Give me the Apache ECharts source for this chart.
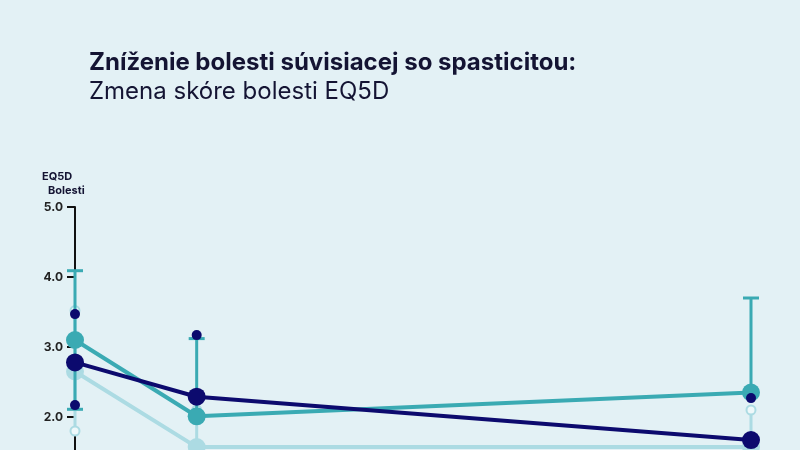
<!DOCTYPE html>
<html><head><meta charset="utf-8">
<script src="https://cdn.jsdelivr.net/npm/echarts@6/dist/echarts.min.js"></script>
<style>html,body{margin:0;padding:0;overflow:hidden;background:#e3f1f5}#c{width:800px;height:600px}</style>
</head><body><div id="c"></div>
<script>
const timepoints = [0, 18, 100];
const yTicks = [2, 3, 4, 5];
const navyMean = [2.78, 2.29, 1.67];
const navyHi = [3.47, 3.17, 2.27];
const navyLo = [2.17, null, null];
const tealMean = [3.10, 2.01, 2.35];
const tealHi = [4.09, 3.12, 3.70];
const tealLo = [2.11, null, null];
const lightMean = [2.65, 1.57, 1.57];
const lightHi = [3.52, 2.10, 2.10];
const lightLo = [1.80, null, null];

const colors = {navy:'#0c0a6e', teal:'#3aaab3', light:'#acdbe3'};
const series = [];
function group(mean, hi, lo, color, endSize, endBorder, cap, wWidth, z){
  timepoints.forEach((t,i)=>{
    const lowV = lo[i] !== null ? lo[i] : mean[i];
    series.push({type:'line', data:[[t,lowV],[t,hi[i]]], symbol:'none', lineStyle:{color, width:wWidth}, z, silent:true});
    const ends = [[t,hi[i]]]; if (lo[i]!==null) ends.push([t,lo[i]]);
    series.push({type:'scatter', data:ends, symbol:cap?'rect':'circle', symbolSize:cap?[16,3]:endSize,
      itemStyle:{color: endBorder ? '#eef8fa' : color, borderColor:color, borderWidth:endBorder?2:0, opacity:1}, z:z+1, silent:true});
  });
  series.push({type:'line', data:timepoints.map((t,i)=>[t,mean[i]]), symbol:'circle', symbolSize:18,
    lineStyle:{color, width:4}, itemStyle:{color, opacity:1}, z:z+2, silent:true});
}
group(lightMean, lightHi, lightLo, colors.light, 9, true, false, 3, 2);
group(tealMean, tealHi, tealLo, colors.teal, 0, false, true, 3, 5);
group(navyMean, navyHi, navyLo, colors.navy, 10, false, false, 0, 8);

const chart = echarts.init(document.getElementById('c'));
chart.setOption({
  backgroundColor:'#e3f1f5',
  animation:false,
  title:[{text:'Zníženie bolesti súvisiacej so spasticitou:', left:84, top:46,
    textStyle:{fontFamily:'Inter', fontWeight:'bold', fontSize:24, color:'#141433'}},
    {text:'Zmena skóre bolesti EQ5D', left:84, top:75,
    textStyle:{fontFamily:'Inter', fontWeight:'normal', fontSize:24, color:'#141433'}},
    {text:'EQ5D', left:37, top:166, textStyle:{fontFamily:'Inter', fontWeight:'bold', fontSize:11, color:'#141433'}},
    {text:'Bolesti', left:43, top:180, textStyle:{fontFamily:'Inter', fontWeight:'bold', fontSize:11, color:'#141433'}}],
  grid:{left:75, right:49, top:207, bottom:43},
  xAxis:{type:'value', min:0, max:100, show:false},
  yAxis:{type:'value', min:0, max:5, interval:1,
    axisLine:{show:true, lineStyle:{color:'#111', width:2}},
    axisTick:{show:true, length:8, lineStyle:{color:'#111', width:2}},
    splitLine:{show:false},
    axisLabel:{margin:12, fontFamily:'Inter', fontWeight:'bold', fontSize:12, color:'#222',
      formatter:v=>v.toFixed(1)}},
  series
});
</script></body></html>
